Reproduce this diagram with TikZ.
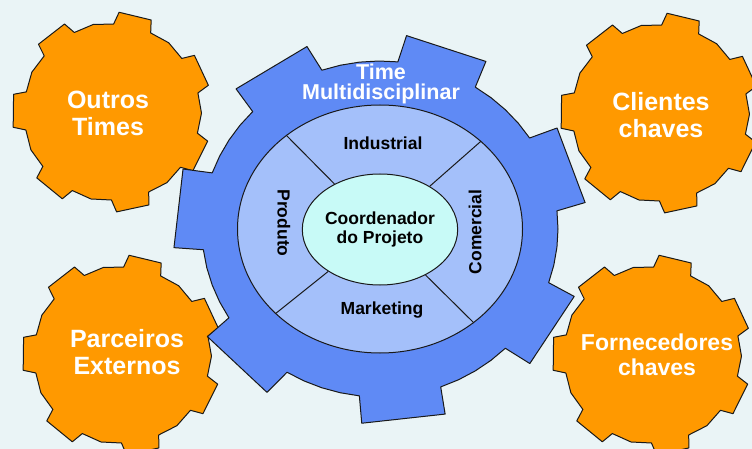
\documentclass[tikz,border=0pt]{standalone}
\usepackage{fontspec}
\setmainfont{Liberation Sans}
\usetikzlibrary{shapes.geometric}
\definecolor{bg}{RGB}{234,244,246}
\definecolor{gearorange}{RGB}{255,153,0}
\definecolor{gearblue}{RGB}{95,138,245}
\definecolor{ringblue}{RGB}{164,192,250}
\definecolor{corecyan}{RGB}{200,250,247}
\tikzset{
  ogear/.style={fill=gearorange, draw=black!90, line width=1pt, line join=round},
  bgear/.style={fill=gearblue, draw=black!90, line width=1pt, line join=round},
  otext/.style={text=white, align=center, inner sep=0pt, font=\fontsize{25}{27}\selectfont\bfseries},
  ringlabel/.style={text=black, inner sep=0pt, font=\fontsize{17.5}{19}\selectfont\bfseries},
  divider/.style={draw=black!90, line width=1pt}
}
\newcommand{\orangegear}[2]{%
  \draw[ogear] ({#1+88*cos(12.5)},{#2-88*sin(12.5)})
  \foreach \a in {25,76.43,127.86,179.29,230.71,282.14,333.57}{
    -- ({#1+88*cos(\a-12.5)},{#2-88*sin(\a-12.5)})
    -- ({#1+100*cos(\a-9.5)},{#2-100*sin(\a-9.5)})
    -- ({#1+100*cos(\a+9.5)},{#2-100*sin(\a+9.5)})
    -- ({#1+88*cos(\a+12.5)},{#2-88*sin(\a+12.5)})
    -- ({#1+89.5*cos(\a+25.7)},{#2-89.5*sin(\a+25.7)})
  } -- cycle;}
\begin{document}
\begin{tikzpicture}[x=1pt,y=-1pt]
\useasboundingbox (0,0) rectangle (752,449);
\clip (0,0) rectangle (752,449);
\fill[bg] (0,0) rectangle (752,449);
% orange gears
\orangegear{112}{112}
\orangegear{660}{113}
\orangegear{122}{355}
\orangegear{652}{355}
% blue gear
\draw[bgear] ({380+178*cos(6.2)},{229-168*sin(6.2)})
  \foreach \a in {19.5,70.93,122.36,173.79,225.21,276.64,328.07}{
    -- ({380+178*cos(\a-13.3)},{229-168*sin(\a-13.3)})
    -- ({380+207*cos(\a-11.7)},{229-195*sin(\a-11.7)})
    -- ({380+207*cos(\a+11.7)},{229-195*sin(\a+11.7)})
    -- ({380+178*cos(\a+13.3)},{229-168*sin(\a+13.3)})
    -- ({380+178*cos(\a+19.5)},{229-168*sin(\a+19.5)})
    -- ({380+178*cos(\a+25.7)},{229-168*sin(\a+25.7)})
    -- ({380+178*cos(\a+31.9)},{229-168*sin(\a+31.9)})
  } -- cycle;
% ring and core
\node[ellipse, draw=black!90, line width=1pt, fill=ringblue, inner sep=0pt,
      minimum width=285pt, minimum height=248pt] (ring) at (380,229) {};
\node[ellipse, draw=black!90, line width=1pt, fill=corecyan, inner sep=0pt,
      minimum width=125pt, minimum height=111pt, align=center,
      font=\fontsize{17.5}{18.5}\selectfont\bfseries] (core) at (380,229.5) {Coordenador\\do Projeto};
\draw[divider] (core.41) -- (ring.41);
\draw[divider] (core.135) -- (ring.135);
\draw[divider] (core.219) -- (ring.219);
\draw[divider] (core.315) -- (ring.315);
% labels
\node[ringlabel] (industrial) at (383,143) {Industrial};
\node[ringlabel] (marketing) at (382,310) {Marketing};
\node[ringlabel, rotate=-90] (produto) at (284,223) {Produto};
\node[ringlabel, rotate=90] (comercial) at (475,232) {Comercial};
\node[text=white, align=center, inner sep=0pt, font=\fontsize{21.5}{20}\selectfont\bfseries] (time) at (381,84) {Time\\Multidisciplinar};
% orange texts
\node[otext] (outros) at (108,113) {Outros\\Times};
\node[otext] (clientes) at (661,115) {Clientes\\chaves};
\node[otext] (parceiros) at (127,352) {Parceiros\\Externos};
\node[otext, font=\fontsize{23}{25}\selectfont\bfseries] (fornecedores) at (657,355) {Fornecedores\\chaves};
\end{tikzpicture}
\end{document}
